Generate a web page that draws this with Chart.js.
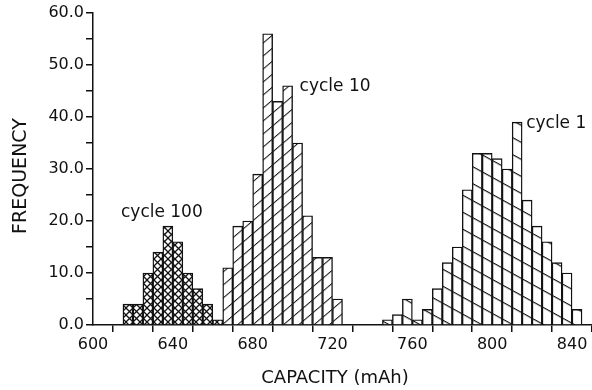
<!DOCTYPE html>
<html>
<head>
<meta charset="utf-8">
<script src="https://cdn.jsdelivr.net/npm/chart.js@4/dist/chart.umd.min.js"></script>
<style>
  html, body { margin: 0; padding: 0; background: #fff; }
  #wrap { width: 592px; height: 390px; position: relative; }
</style>
</head>
<body>
<div id="wrap"><canvas id="c"></canvas></div>
<script>
// Capacity histogram bins (left edge, mAh) and cell counts per bin
const BIN_WIDTH = 5;
const cycle100Bins   = [615, 620, 625, 630, 635, 640, 645, 650, 655, 660];
const cycle100Counts = [4, 4, 10, 14, 19, 16, 10, 7, 4, 1];
const cycle10Bins    = [665, 670, 675, 680, 685, 690, 695, 700, 705, 710, 715, 720];
const cycle10Counts  = [11, 19, 20, 29, 56, 43, 46, 35, 21, 13, 13, 5];
const cycle1Bins     = [745, 750, 755, 760, 765, 770, 775, 780, 785, 790,
                        795, 800, 805, 810, 815, 820, 825, 830, 835, 840];
const cycle1Counts   = [1, 2, 5, 1, 3, 7, 12, 15, 26, 33,
                        33, 32, 30, 39, 24, 19, 16, 12, 10, 3];
const seriesNames    = ['cycle 100', 'cycle 10', 'cycle 1'];
const xTickLabels    = [600, 640, 680, 720, 760, 800, 840];
const yTickLabels    = [0, 10, 20, 30, 40, 50, 60];

const INK = '#111';
const FONT = '"DejaVu Sans", sans-serif';

// Diagonal line hatch: horizontal stripes skewed to the requested slope
function lineHatch(spacing, slope, lw) {
  const t = document.createElement('canvas');
  t.width = 4; t.height = spacing;
  const g = t.getContext('2d');
  g.fillStyle = '#fff'; g.fillRect(0, 0, 4, spacing);
  g.fillStyle = INK; g.fillRect(0, Math.floor(spacing / 2), 4, lw);
  const p = g.createPattern(t, 'repeat');
  p.setTransform(new DOMMatrix([1, slope, 0, 1, 0, 0]));
  return p;
}
// Cross hatch for the densest fill
function crossHatch(size, lw) {
  const t = document.createElement('canvas');
  t.width = size; t.height = size;
  const g = t.getContext('2d');
  g.fillStyle = '#fff'; g.fillRect(0, 0, size, size);
  g.strokeStyle = INK; g.lineWidth = lw;
  g.beginPath();
  g.moveTo(-1, -1); g.lineTo(size + 1, size + 1);
  g.moveTo(size + 1, -1); g.lineTo(-1, size + 1);
  g.stroke();
  return g.createPattern(t, 'repeat');
}

function toPoints(bins, counts) {
  return bins.map((b, i) => ({ x: b + BIN_WIDTH / 2, y: counts[i] }));
}

const barStyle = {
  borderColor: INK,
  borderWidth: 1.4,
  grouped: false,
  barPercentage: 1,
  categoryPercentage: 1
};

// Series captions placed in data coordinates
const captions = [
  { text: seriesNames[0], x: 634.5, y: 21.7, align: 'center' },
  { text: seriesNames[1], x: 703.5, y: 45.8, align: 'left' },
  { text: seriesNames[2], x: 817,   y: 38.8, align: 'left' }
];

const textPlugin = {
  id: 'textPlugin',
  afterDatasetsDraw(chart) {
    const { ctx, scales: { x, y }, chartArea } = chart;
    ctx.save();
    ctx.fillStyle = INK;
    ctx.textBaseline = 'middle';
    ctx.font = '17px ' + FONT;
    captions.forEach(c => {
      ctx.textAlign = c.align;
      ctx.fillText(c.text, x.getPixelForValue(c.x), y.getPixelForValue(c.y));
    });
    // axis titles
    ctx.font = '18px ' + FONT;
    ctx.textAlign = 'center';
    ctx.fillText('CAPACITY (mAh)', chartArea.left + 242, 378);
    ctx.translate(21, chartArea.top + 163);
    ctx.rotate(-Math.PI / 2);
    ctx.font = '19px ' + FONT;
    ctx.fillText('FREQUENCY', 0, 0);
    ctx.restore();
  }
};

new Chart(document.getElementById('c'), {
  type: 'bar',
  data: {
    datasets: [
      Object.assign({ label: seriesNames[0], data: toPoints(cycle100Bins, cycle100Counts),
        backgroundColor: crossHatch(7, 1.3) }, barStyle),
      Object.assign({ label: seriesNames[1], data: toPoints(cycle10Bins, cycle10Counts),
        backgroundColor: lineHatch(13, -0.85, 1.3) }, barStyle),
      Object.assign({ label: seriesNames[2], data: toPoints(cycle1Bins, cycle1Counts),
        backgroundColor: lineHatch(17, 0.55, 1.3) }, barStyle)
    ]
  },
  options: {
    responsive: true,
    maintainAspectRatio: false,
    animation: false,
    events: [],
    layout: { padding: { top: 13, right: 0, left: 0, bottom: 0 } },
    plugins: { legend: { display: false }, tooltip: { enabled: false } },
    scales: {
      x: {
        type: 'linear',
        min: 600,
        max: 850,
        offset: false,
        afterFit(s) { s.height = 65; },
        border: { display: true, color: INK, width: 1.5 },
        grid: { drawOnChartArea: false, drawTicks: true, tickLength: 7, color: INK, lineWidth: 1.5 },
        ticks: {
          stepSize: 20,
          includeBounds: false,
          maxRotation: 0,
          autoSkip: false,
          padding: 3,
          color: INK,
          font: { family: FONT, size: 16 },
          callback: v => xTickLabels.includes(v) ? String(v) : ''
        }
      },
      y: {
        min: 0,
        max: 60,
        afterFit(s) { s.width = 93; },
        border: { display: true, color: INK, width: 1.5 },
        grid: { drawOnChartArea: false, drawTicks: true, tickLength: 7, color: INK, lineWidth: 1.5 },
        ticks: {
          stepSize: 5,
          autoSkip: false,
          padding: 2,
          color: INK,
          font: { family: FONT, size: 16 },
          callback: v => yTickLabels.includes(v) ? v.toFixed(1) : ''
        }
      }
    }
  },
  plugins: [textPlugin]
});
</script>
</body>
</html>
